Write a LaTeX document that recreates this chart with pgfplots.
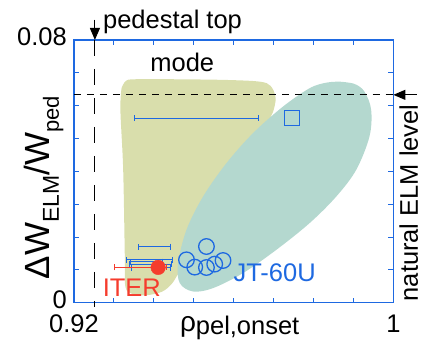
\documentclass[border=0pt]{standalone}
\usepackage{fontspec}
\setmainfont{Liberation Sans}
\usepackage{pgfplots}
\pgfplotsset{compat=1.18}
\usetikzlibrary{arrows.meta}
\definecolor{olivef}{RGB}{217,222,172}
\definecolor{tealf}{RGB}{180,216,207}
\definecolor{jblue}{RGB}{30,105,225}
\definecolor{ired}{RGB}{245,60,45}
\newcommand{\fs}[1]{\fontsize{#1}{#1}\selectfont}
\begin{document}
\begin{tikzpicture}
\path[use as bounding box] (-74pt,-42pt) rectangle (348.3pt,303pt);
\begin{axis}[
  scale only axis, width=319.7pt, height=263pt,
  xmin=0.92, xmax=1, ymin=0, ymax=0.08,
  clip=false, scaled ticks=false,
  axis line style={jblue, line width=1.2pt},
  xtick={0.92,1}, xticklabels={0.92,1},
  ytick={0,0.08}, yticklabels={0,0.08},
  minor xtick={0.93,0.94,0.95,0.96,0.97,0.98,0.99},
  minor ytick={0.01,0.02,0.03,0.04,0.05,0.06,0.07},
  tick style={jblue, line width=1pt},
  tick align=inside, major tick length=5pt, minor tick length=5pt,
  ticklabel style={font=\fs{25.5}, text=black, inner sep=0pt},
  xticklabel style={anchor=north, yshift=-12pt},
  yticklabel style={anchor=east, xshift=-7pt, yshift=3pt},
]
% regions
\addplot[fill=olivef, draw=none, smooth, tension=0.55] coordinates {
(0.93193,0.0654) (0.933,0.06753) (0.93525,0.06804) (0.94568,0.06804)
(0.95818,0.06783) (0.9665,0.06732) (0.96925,0.06601) (0.9705,0.06236)
(0.96975,0.05779) (0.96775,0.05354) (0.9615,0.04046) (0.95525,0.02677)
(0.95025,0.0146) (0.9465,0.00943) (0.9445,0.00578) (0.942,0.00335)
(0.938,0.00228) (0.9345,0.00274) (0.93288,0.00487) (0.93275,0.01308)
(0.93233,0.04046) (0.93163,0.05871) (0.93193,0.0654)} -- cycle;
\addplot[fill=tealf, draw=none, smooth, tension=0.55] coordinates {
(0.9865,0.06732) (0.99025,0.06662) (0.99275,0.06427) (0.99443,0.05871)
(0.994,0.05059) (0.99068,0.04046) (0.98568,0.03233) (0.979,0.02424)
(0.97068,0.01612) (0.96233,0.00903) (0.95483,0.00447) (0.94983,0.00344)
(0.9465,0.00599) (0.94608,0.01208) (0.94818,0.02221) (0.95233,0.03233)
(0.95818,0.04249) (0.96483,0.05162) (0.97233,0.05971) (0.979,0.06531)
(0.98318,0.06701) (0.9865,0.06732)} -- cycle;
% reference lines
\addplot[black, line width=1pt, dash pattern=on 7pt off 6pt] coordinates {(0.92,0.0633) (1,0.0633)};
\addplot[black, line width=1pt, dash pattern=on 16pt off 13pt] coordinates {(0.92525,0.08) (0.92525,-0.0012)};
% error bars (blue)
\addplot[jblue, only marks, mark=*, mark options={opacity=0},
  error bars/.cd, x dir=both, x explicit, error mark=|,
  error bar style={draw=jblue, solid, line width=1pt},
  error mark options={draw=jblue, opacity=1, line width=1pt, mark size=3pt}] coordinates {
(0.95075,0.05618) +- (0.0155,0)
(0.94022,0.01713) +- (0.00397,0)
(0.93888,0.01308) +- (0.0057,0)
(0.9382,0.0125) +- (0.0040,0)
(0.93925,0.01177) +- (0.00525,0)
(0.93935,0.01065) +- (0.00485,0)
};
% JT-60U circles
\addplot[jblue, only marks, mark=o, mark size=7.8pt, line width=1.3pt] coordinates {
(0.95318,0.01713) (0.94818,0.01308) (0.95025,0.01086)
(0.95318,0.01074) (0.95525,0.01177) (0.95733,0.01287)};
% JT-60U square
\addplot[jblue, only marks, mark=square, mark size=7.3pt, line width=1.3pt] coordinates {(0.97463,0.05627)};
% ITER
\addplot[ired, only marks, mark=*, mark size=7.3pt,
  error bars/.cd, x dir=both, x explicit, error mark=|,
  error bar style={draw=ired, solid, line width=1pt},
  error mark options={draw=ired, line width=1pt, mark size=3pt}] coordinates {
(0.94108,0.01077) += (0.002,0) -= (0.01083,0)};
% texts
\node[anchor=base, font=\fs{25.5}] at (axis cs:0.94713,0.07036) {mode};
\node[anchor=base west, font=\fs{25.5}, inner sep=0pt] at (axis cs:0.92725,0.08356) {pedestal top};
\node[anchor=base, font=\fs{25.5}, text=ired] at (axis cs:0.9345,0.00192) {ITER};
\node[anchor=base, font=\fs{25.5}, text=jblue] at (axis cs:0.97025,0.00648) {JT-60U};
\node[anchor=base, rotate=90, font=\fs{25.5}, inner sep=0pt] at (axis cs:1.00615,0.03042) {natural ELM level};
\node[anchor=base, rotate=90, inner sep=0pt] at (axis cs:0.914,0.0351) {\fs{35}ΔW\raisebox{-9pt}{\fs{23}ELM}/W\raisebox{-9pt}{\fs{22}ped}};
\node[anchor=base, inner sep=0pt] at (axis cs:0.9615,-0.00873) {\fs{28}ρ\raisebox{-3pt}{\fs{25.5}pel,onset}};
% arrows
\draw[-{Triangle[length=12pt,width=10pt]}, line width=1pt] (axis cs:0.92525,0.0862) -- (axis cs:0.92525,0.0800);
\draw[-{Triangle[length=12pt,width=10pt]}, line width=1pt] (axis cs:1.0058,0.0633) -- (axis cs:1.0,0.0633);
\end{axis}
\end{tikzpicture}
\end{document}
